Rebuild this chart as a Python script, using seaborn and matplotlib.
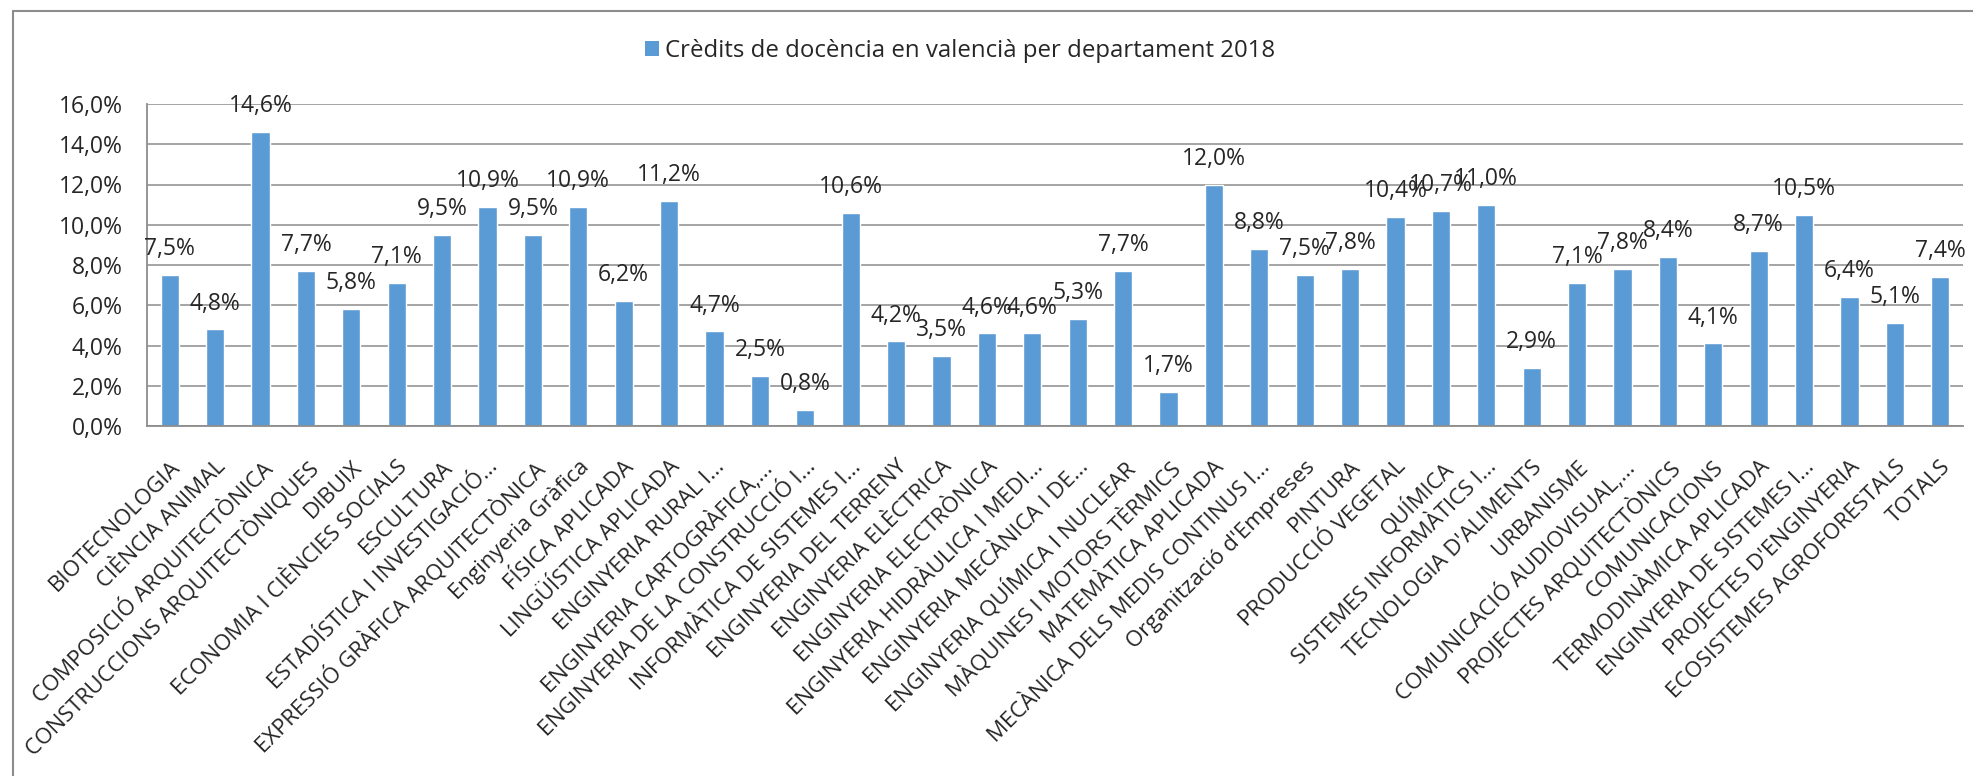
import numpy as np
import pandas as pd
import matplotlib
matplotlib.use("Agg")
import matplotlib.pyplot as plt
from matplotlib.lines import Line2D
from matplotlib.patches import Patch
from matplotlib.ticker import FuncFormatter, FixedLocator
import seaborn as sns

departaments = [
    "BIOTECNOLOGIA", "CIÈNCIA ANIMAL", "COMPOSICIÓ ARQUITECTÒNICA",
    "CONSTRUCCIONS ARQUITECTÒNIQUES", "DIBUIX", "ECONOMIA I CIÈNCIES SOCIALS",
    "ESCULTURA", "ESTADÍSTICA I INVESTIGACIÓ...", "EXPRESSIÓ GRÀFICA ARQUITECTÒNICA",
    "Enginyeria Gràfica", "FÍSICA APLICADA", "LINGÜÍSTICA APLICADA",
    "ENGINYERIA RURAL I...", "ENGINYERIA CARTOGRÀFICA,...", "ENGINYERIA DE LA CONSTRUCCIÓ I...",
    "INFORMÀTICA DE SISTEMES I...", "ENGINYERIA DEL TERRENY", "ENGINYERIA ELÈCTRICA",
    "ENGINYERIA ELECTRÒNICA", "ENGINYERIA HIDRÀULICA I MEDI...", "ENGINYERIA MECÀNICA I DE...",
    "ENGINYERIA QUÍMICA I NUCLEAR", "MÀQUINES I MOTORS TÈRMICS", "MATEMÀTICA APLICADA",
    "MECÀNICA DELS MEDIS CONTINUS I...", "Organització d'Empreses", "PINTURA",
    "PRODUCCIÓ VEGETAL", "QUÍMICA", "SISTEMES INFORMÀTICS I...",
    "TECNOLOGIA D'ALIMENTS", "URBANISME", "COMUNICACIÓ AUDIOVISUAL,...",
    "PROJECTES ARQUITECTÒNICS", "COMUNICACIONS", "TERMODINÀMICA APLICADA",
    "ENGINYERIA DE SISTEMES I...", "PROJECTES D'ENGINYERIA", "ECOSISTEMES AGROFORESTALS",
    "TOTALS",
]
credits_pct = [
    7.5, 4.8, 14.6, 7.7, 5.8, 7.1, 9.5, 10.9, 9.5, 10.9,
    6.2, 11.2, 4.7, 2.5, 0.8, 10.6, 4.2, 3.5, 4.6, 4.6,
    5.3, 7.7, 1.7, 12.0, 8.8, 7.5, 7.8, 10.4, 10.7, 11.0,
    2.9, 7.1, 7.8, 8.4, 4.1, 8.7, 10.5, 6.4, 5.1, 7.4,
]
serie = "Crèdits de docència en valencià per departament 2018"
y_ticks = [0, 2, 4, 6, 8, 10, 12, 14, 16]

blau = "#5B9BD5"
gris = "#8C8C8C"

sns.set_style("white")
plt.rcParams["font.family"] = ["Open Sans", "DejaVu Sans"]

df = pd.DataFrame({"departament": departaments, "credits": credits_pct})


def pct(v, pos=None):
    return f"{v:.1f}%".replace(".", ",")


W, H = 1973, 776
fig = plt.figure(figsize=(W / 100, H / 100), dpi=100)
ax = fig.add_axes([147 / W, 1 - 426 / H, (1963 - 147) / W, (426 - 104) / H])

sns.barplot(data=df, x="departament", y="credits", color=blau, saturation=1,
            width=0.4, ax=ax)

ax.set_xlim(-0.5, len(departaments) - 0.5)
ax.set_ylim(0, 16)
ax.yaxis.set_major_locator(FixedLocator(y_ticks))
ax.yaxis.set_major_formatter(FuncFormatter(pct))
ax.grid(axis="y", color=gris, linewidth=1.1)
ax.set_axisbelow(True)
ax.set_xlabel("")
ax.set_ylabel("")

for s in ["top", "right"]:
    ax.spines[s].set_visible(False)
for s in ["left", "bottom"]:
    ax.spines[s].set_color(gris)
    ax.spines[s].set_linewidth(1.3)

ax.tick_params(axis="y", length=6.5, width=1.1, color=gris, pad=11, labelsize=16.5)
ax.set_xticks(np.arange(len(departaments) + 1) - 0.5, minor=True)
ax.tick_params(axis="x", which="minor", length=5, width=1.1, color=gris)
ax.tick_params(axis="x", which="major", length=0, pad=22, labelsize=16)
plt.setp(ax.get_xticklabels(), rotation=45, ha="right", va="top",
         rotation_mode="anchor")

for cont in ax.containers:
    ax.bar_label(cont, labels=[pct(v) for v in credits_pct], padding=10, fontsize=16.5)

fig.legend(handles=[Patch(facecolor=blau, edgecolor="none", label=serie)],
           loc="center", bbox_to_anchor=(960 / W, 1 - 51 / H), frameon=False,
           fontsize=17.3, handlelength=0.6, handleheight=0.6, handletextpad=0.25)

# chart border, only the left and top edges are visible in the crop
fig.add_artist(Line2D([13 / W, 13 / W], [0, 1 - 11 / H], color=gris, linewidth=1.5))
fig.add_artist(Line2D([13 / W, 1], [1 - 11 / H, 1 - 11 / H], color=gris, linewidth=1.5))

fig.savefig("out.png", dpi=100)
